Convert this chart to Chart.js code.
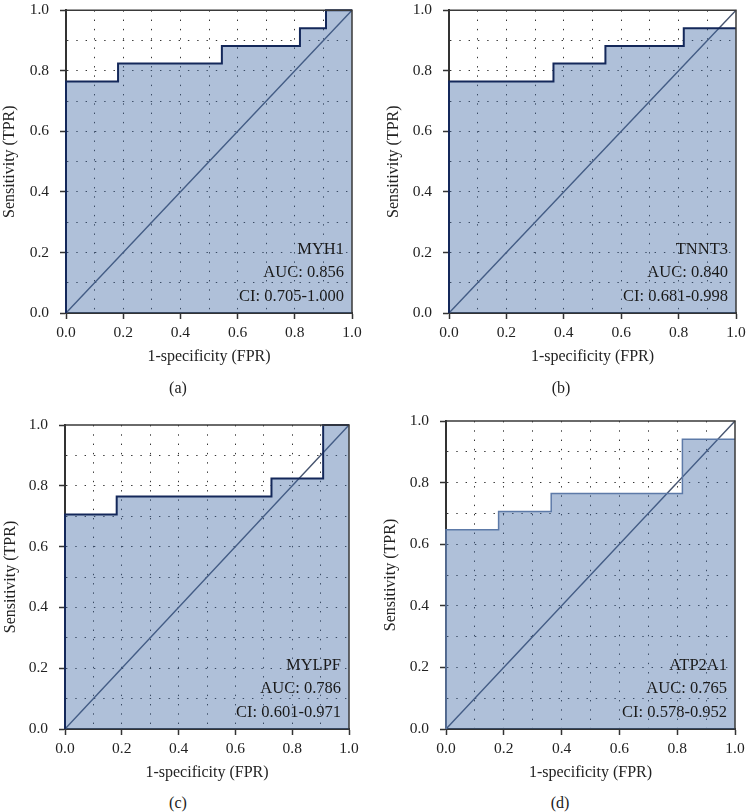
<!DOCTYPE html>
<html>
<head>
<meta charset="utf-8">
<script src="https://cdn.jsdelivr.net/npm/chart.js@4.4.1/dist/chart.umd.min.js"></script>
<style>
  html, body { margin: 0; padding: 0; background: #fff; }
  body { width: 746px; height: 812px; position: relative; overflow: hidden; }
  canvas { position: absolute; }
  .cap { position: absolute; font: 16px "Liberation Serif", serif; color: #222; transform: translate(-50%, -50%); }
</style>
</head>
<body>
<canvas id="cA" width="373" height="376" style="left:0px;top:-10px"></canvas>
<canvas id="cB" width="400" height="376" style="left:373px;top:-10px"></canvas>
<canvas id="cC" width="373" height="386" style="left:0px;top:396px"></canvas>
<canvas id="cD" width="400" height="386" style="left:373px;top:396px"></canvas>
<div class="cap" style="left:178px;top:388px">(a)</div>
<div class="cap" style="left:561px;top:388px">(b)</div>
<div class="cap" style="left:178px;top:803px">(c)</div>
<div class="cap" style="left:560px;top:803px">(d)</div>
<script>
// ROC points (FPR, TPR)
const myh1Fpr = [0, 0, 0.182, 0.545, 0.818, 0.909, 1.0];
const myh1Tpr = [0, 0.765, 0.824, 0.882, 0.941, 1.0, 1.0];
const tnnt3Fpr = [0, 0, 0.364, 0.545, 0.818, 1.0];
const tnnt3Tpr = [0, 0.765, 0.824, 0.882, 0.941, 0.941];
const mylpfFpr = [0, 0, 0.182, 0.727, 0.909, 1.0];
const mylpfTpr = [0, 0.706, 0.765, 0.824, 1.0, 1.0];
const atp2a1Fpr = [0, 0, 0.182, 0.364, 0.818, 1.0];
const atp2a1Tpr = [0, 0.647, 0.706, 0.765, 0.941, 0.941];
const diagonal = [0, 1];

const panelLabels = {
  A: ["MYH1", "AUC: 0.856", "CI: 0.705-1.000"],
  B: ["TNNT3", "AUC: 0.840", "CI: 0.681-0.998"],
  C: ["MYLPF", "AUC: 0.786", "CI: 0.601-0.971"],
  D: ["ATP2A1", "AUC: 0.765", "CI: 0.578-0.952"]
};

Chart.defaults.font.family = "'Liberation Serif', 'Times New Roman', serif";
Chart.defaults.font.size = 15;
Chart.defaults.color = "#222";

const serif = "'Liberation Serif', 'Times New Roman', serif";

// frame on top/right + AUC text in the corner
const frameAndText = {
  id: "frameAndText",
  afterDatasetsDraw(chart, args, opts) {
    const { ctx, chartArea: a } = chart;
    ctx.save();
    ctx.strokeStyle = "#3a3a3a";
    ctx.lineWidth = 1.5;
    ctx.beginPath();
    ctx.moveTo(a.left, a.top);
    ctx.lineTo(a.right, a.top);
    ctx.lineTo(a.right, a.bottom);
    ctx.stroke();
    ctx.font = "16.5px " + serif;
    ctx.fillStyle = "#1a1a1a";
    ctx.textAlign = "right";
    ctx.textBaseline = "middle";
    const offs = [63, 40, 16];
    opts.lines.forEach((t, i) => ctx.fillText(t, a.right - 8, a.bottom - offs[i]));
    ctx.restore();
  }
};

function makeChart(id, fpr, tpr, lineColor, lineWidth, lines, pad, yw) {
  const pts = fpr.map((x, i) => ({ x, y: tpr[i] }));
  const diag = diagonal.map(v => ({ x: v, y: v }));
  const tickColor = c => (c.index % 2 === 0 ? "#333" : "rgba(0,0,0,0)");
  const gridColor = c => (c.index === 0 || c.index === 10 ? "rgba(0,0,0,0)" : "rgba(30,30,30,0.9)");
  const label = (v, i) => (i % 2 === 0 ? v.toFixed(1) : "");
  new Chart(document.getElementById(id), {
    type: "line",
    data: {
      datasets: [
        {
          data: pts,
          stepped: "before",
          borderColor: lineColor,
          borderWidth: lineWidth,
          backgroundColor: "rgba(65,105,165,0.42)",
          fill: "origin",
          pointRadius: 0,
          clip: 3
        },
        {
          data: diag,
          borderColor: "#46546f",
          borderWidth: 1.4,
          pointRadius: 0,
          fill: false,
          clip: 3
        }
      ]
    },
    options: {
      responsive: false,
      animation: false,
      layout: { padding: pad },
      plugins: {
        legend: { display: false },
        tooltip: { enabled: false },
        frameAndText: { lines }
      },
      scales: {
        x: {
          type: "linear",
          min: 0,
          max: 1,
          afterFit: s => { s.height = 53; },
          ticks: { stepSize: 0.1, autoSkip: false, maxRotation: 0, padding: 5, callback: label, font: { size: 15.5 } },
          grid: { color: gridColor, lineWidth: 1, tickLength: 6, tickColor, tickWidth: 1.5 },
          border: { color: "#333", width: 2, dash: [1.4, 7.9] },
          title: { display: true, text: "1-specificity (FPR)", padding: 0, font: { size: 16 } }
        },
        y: {
          type: "linear",
          min: 0,
          max: 1,
          afterFit: s => { s.width = yw; },
          ticks: { stepSize: 0.1, autoSkip: false, padding: 11, callback: label, font: { size: 15.5 } },
          grid: { color: gridColor, lineWidth: 1, tickLength: 6, tickColor, tickWidth: 1.5 },
          border: { color: "#333", width: 2, dash: [1.4, 7.9] },
          title: { display: true, text: "Sensitivity (TPR)", padding: 0, font: { size: 16 } }
        }
      }
    },
    plugins: [frameAndText]
  });
}

makeChart("cA", myh1Fpr, myh1Tpr, "#14285a", 2, panelLabels.A, { left: 0, right: 21, top: 15, bottom: 0 }, 66);
makeChart("cB", tnnt3Fpr, tnnt3Tpr, "#14285a", 2, panelLabels.B, { left: 11, right: 37, top: 15, bottom: 0 }, 65);
makeChart("cC", mylpfFpr, mylpfTpr, "#14285a", 2, panelLabels.C, { left: 1, right: 24, top: 29, bottom: 0 }, 64);
makeChart("cD", atp2a1Fpr, atp2a1Tpr, "#5d7aa8", 1.5, panelLabels.D, { left: 8, right: 38, top: 25, bottom: 0 }, 65);
</script>
</body>
</html>
